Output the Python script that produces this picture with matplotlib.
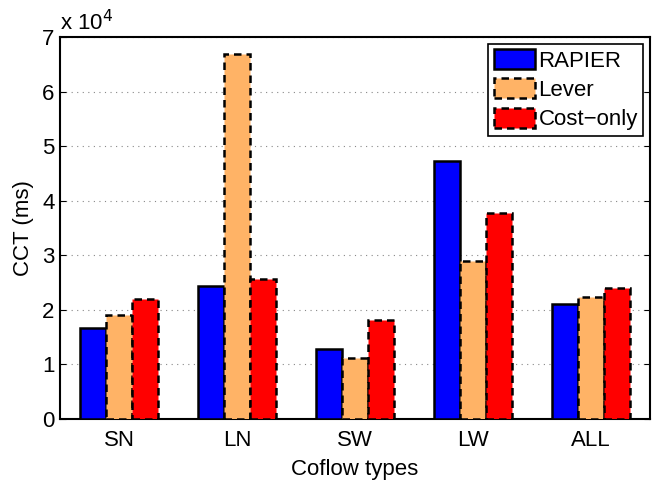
import matplotlib

matplotlib.use("Agg")
import matplotlib.pyplot as plt
import numpy as np

plt.rcParams["font.family"] = ["Liberation Sans", "DejaVu Sans"]

categories = ["SN", "LN", "SW", "LW", "ALL"]
rapier = [16700, 24400, 12800, 47200, 21000]
lever = [19000, 66800, 11200, 28900, 22400]
cost_only = [21900, 25600, 18100, 37700, 24000]
series = [
    ("RAPIER", rapier, "#0000ff", "solid"),
    ("Lever", lever, "#ffb366", (0, (3, 2))),
    ("Cost\u2212only", cost_only, "#ff0000", (0, (3, 2))),
]

fig = plt.figure(figsize=(6.58, 4.83), dpi=100)
ax = fig.add_axes([0.0912, 0.1325, 0.8966, 0.7909])

x = np.arange(1, len(categories) + 1)
width = 0.22
for i, (name, vals, color, ls) in enumerate(series):
    ax.bar(x + (i - 1) * width, vals, width, color=color, edgecolor="black",
           linewidth=1.8, linestyle=ls, label=name, zorder=3)

ax.set_xlim(0.5, 5.5)
ax.set_ylim(0, 70000)
ax.set_xticks(x)
ax.set_xticklabels(categories)
yt = np.arange(0, 70001, 10000)
ax.set_yticks(yt)
ax.set_yticklabels([str(int(v / 10000)) for v in yt])
ax.tick_params(direction="in", labelsize=16, length=4, right=True, top=False)
ax.tick_params(axis="x", pad=8)
ax.tick_params(axis="y", pad=4)
ax.yaxis.grid(True, linestyle=(0, (1, 4)), color="#888888", linewidth=0.8)
for s in ax.spines.values():
    s.set_linewidth(1.5)
ax.text(0.0, 1.005, "x 10$^4$", transform=ax.transAxes, fontsize=16,
        ha="left", va="bottom")
ax.set_ylabel("CCT (ms)", fontsize=16, labelpad=6)
ax.set_xlabel("Coflow types", fontsize=16, labelpad=6)

leg = ax.legend(loc="upper right", fontsize=16, fancybox=False, framealpha=1,
                edgecolor="black", borderaxespad=0.3, handlelength=1.85,
                handleheight=1.0, handletextpad=0.15, labelspacing=0.3,
                borderpad=0.25)
leg.get_frame().set_linewidth(1.2)

fig.savefig("out.png", dpi=100)
